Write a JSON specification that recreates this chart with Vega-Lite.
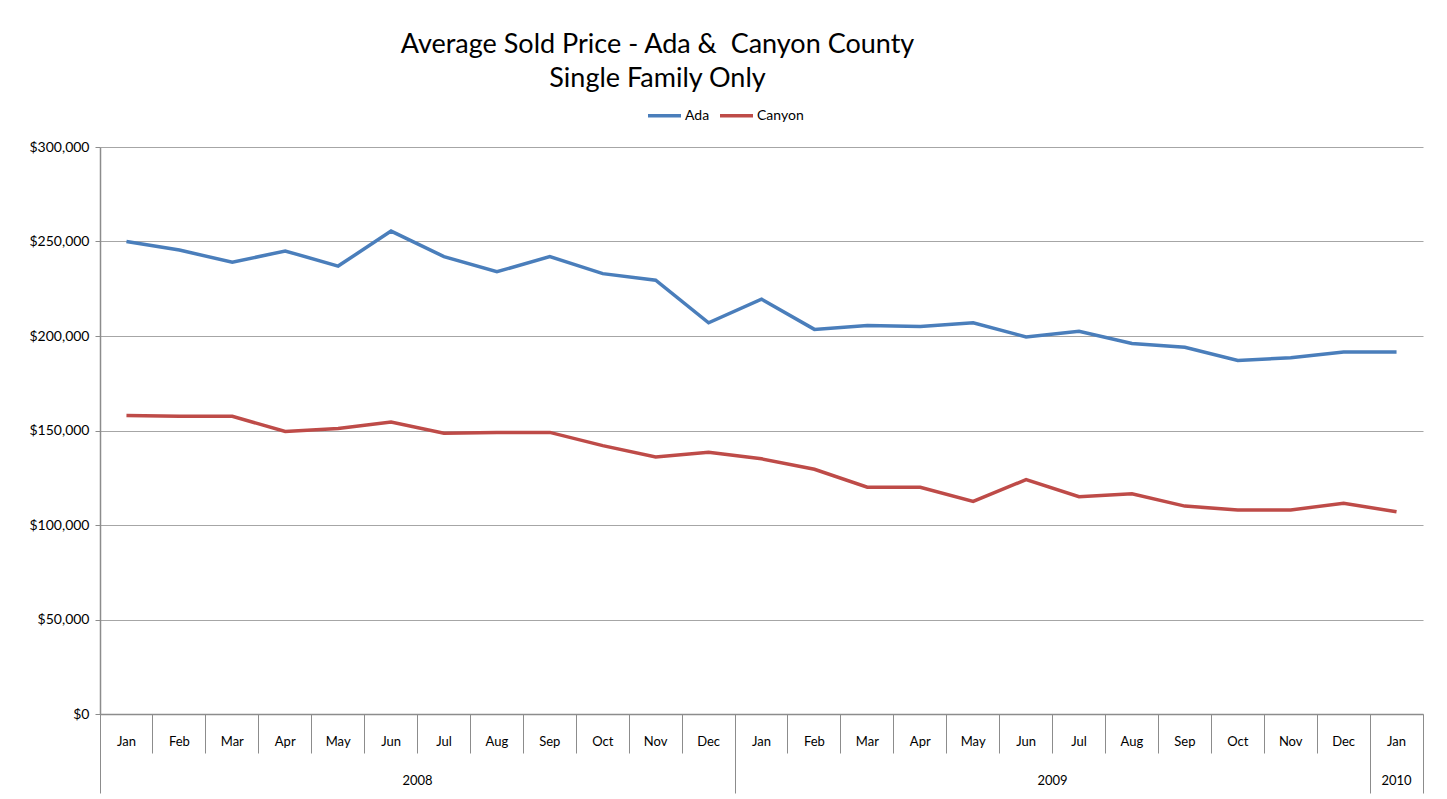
{
  "$schema": "https://vega.github.io/schema/vega-lite/v6.json",
  "width": 1323,
  "height": 567,
  "autosize": {"type": "none"},
  "padding": {"left": 100, "top": 147, "right": 24, "bottom": 85},
  "background": "white",
  "config": {"view": {"stroke": null}, "font": "Lato"},
  "title": {
    "text": ["Average Sold Price - Ada &\u00a0 Canyon County", "Single Family Only"],
    "fontSize": 27,
    "fontWeight": "normal",
    "font": "Lato",
    "color": "#000000",
    "anchor": "middle",
    "dx": -104,
    "lineHeight": 34,
    "offset": 4
  },
  "data": {
    "values": [
      {"m": "Jan 2008", "series": "Ada", "value": 250000},
      {"m": "Feb 2008", "series": "Ada", "value": 245500},
      {"m": "Mar 2008", "series": "Ada", "value": 239000},
      {"m": "Apr 2008", "series": "Ada", "value": 245000},
      {"m": "May 2008", "series": "Ada", "value": 237000},
      {"m": "Jun 2008", "series": "Ada", "value": 255500},
      {"m": "Jul 2008", "series": "Ada", "value": 242000},
      {"m": "Aug 2008", "series": "Ada", "value": 234000},
      {"m": "Sep 2008", "series": "Ada", "value": 242000},
      {"m": "Oct 2008", "series": "Ada", "value": 233000},
      {"m": "Nov 2008", "series": "Ada", "value": 229500},
      {"m": "Dec 2008", "series": "Ada", "value": 207000},
      {"m": "Jan 2009", "series": "Ada", "value": 219500},
      {"m": "Feb 2009", "series": "Ada", "value": 203500},
      {"m": "Mar 2009", "series": "Ada", "value": 205500},
      {"m": "Apr 2009", "series": "Ada", "value": 205000},
      {"m": "May 2009", "series": "Ada", "value": 207000},
      {"m": "Jun 2009", "series": "Ada", "value": 199500},
      {"m": "Jul 2009", "series": "Ada", "value": 202500},
      {"m": "Aug 2009", "series": "Ada", "value": 196000},
      {"m": "Sep 2009", "series": "Ada", "value": 194000},
      {"m": "Oct 2009", "series": "Ada", "value": 187000},
      {"m": "Nov 2009", "series": "Ada", "value": 188500},
      {"m": "Dec 2009", "series": "Ada", "value": 191500},
      {"m": "Jan 2010", "series": "Ada", "value": 191500},
      {"m": "Jan 2008", "series": "Canyon", "value": 158000},
      {"m": "Feb 2008", "series": "Canyon", "value": 157500},
      {"m": "Mar 2008", "series": "Canyon", "value": 157500},
      {"m": "Apr 2008", "series": "Canyon", "value": 149500},
      {"m": "May 2008", "series": "Canyon", "value": 151000},
      {"m": "Jun 2008", "series": "Canyon", "value": 154500},
      {"m": "Jul 2008", "series": "Canyon", "value": 148500},
      {"m": "Aug 2008", "series": "Canyon", "value": 149000},
      {"m": "Sep 2008", "series": "Canyon", "value": 149000},
      {"m": "Oct 2008", "series": "Canyon", "value": 142000},
      {"m": "Nov 2008", "series": "Canyon", "value": 136000},
      {"m": "Dec 2008", "series": "Canyon", "value": 138500},
      {"m": "Jan 2009", "series": "Canyon", "value": 135000},
      {"m": "Feb 2009", "series": "Canyon", "value": 129500},
      {"m": "Mar 2009", "series": "Canyon", "value": 120000},
      {"m": "Apr 2009", "series": "Canyon", "value": 120000},
      {"m": "May 2009", "series": "Canyon", "value": 112500},
      {"m": "Jun 2009", "series": "Canyon", "value": 124000},
      {"m": "Jul 2009", "series": "Canyon", "value": 115000},
      {"m": "Aug 2009", "series": "Canyon", "value": 116500},
      {"m": "Sep 2009", "series": "Canyon", "value": 110000},
      {"m": "Oct 2009", "series": "Canyon", "value": 108000},
      {"m": "Nov 2009", "series": "Canyon", "value": 108000},
      {"m": "Dec 2009", "series": "Canyon", "value": 111500},
      {"m": "Jan 2010", "series": "Canyon", "value": 107000}
    ]
  },
  "resolve": {"axis": {"x": "independent"}},
  "layer": [
    {
      "mark": {"type": "line", "strokeWidth": 3.5, "strokeJoin": "miter"},
      "encoding": {
        "x": {
          "field": "m",
          "type": "ordinal",
          "scale": {
            "type": "band",
            "paddingInner": 0,
            "paddingOuter": 0,
            "domain": ["Jan 2008","Feb 2008","Mar 2008","Apr 2008","May 2008","Jun 2008","Jul 2008","Aug 2008","Sep 2008","Oct 2008","Nov 2008","Dec 2008","Jan 2009","Feb 2009","Mar 2009","Apr 2009","May 2009","Jun 2009","Jul 2009","Aug 2009","Sep 2009","Oct 2009","Nov 2009","Dec 2009","Jan 2010"]
          },
          "axis": {
            "orient": "bottom",
            "title": null,
            "bandPosition": 0,
            "labelExpr": "split(datum.value, ' ')[0]",
            "labelAngle": 0,
            "labelAlign": "center",
            "labelBaseline": "middle",
            "labelPadding": -12,
            "labelFont": "Lato",
            "labelFontSize": 13,
            "labelColor": "#000000",
            "labelOverlap": false,
            "labelBound": false,
            "labelFlush": false,
            "tickSize": 39,
            "tickColor": "#8c8c8c",
            "tickWidth": 1,
            "domainColor": "#8c8c8c",
            "domainWidth": 1.5,
            "grid": false
          }
        },
        "y": {
          "field": "value",
          "type": "quantitative",
          "scale": {"domain": [0, 300000], "nice": false},
          "axis": {
            "title": null,
            "values": [0, 50000, 100000, 150000, 200000, 250000, 300000],
            "format": "$,.0f",
            "labelFont": "Lato",
            "labelFontSize": 14,
            "labelColor": "#000000",
            "labelPadding": 6,
            "tickSize": 5,
            "tickColor": "#8c8c8c",
            "domainColor": "#8c8c8c",
            "domainWidth": 1.5,
            "grid": true,
            "gridColor": "#a6a6a6",
            "gridWidth": 1.2
          }
        },
        "color": {
          "field": "series",
          "type": "nominal",
          "scale": {"domain": ["Ada", "Canyon"], "range": ["#4a7ebb", "#be4b48"]},
          "legend": {
            "title": null,
            "orient": "none",
            "direction": "horizontal",
            "legendX": 546,
            "legendY": -50,
            "symbolType": "stroke",
            "symbolSize": 1089,
            "symbolStrokeWidth": 3.5,
            "labelFont": "Lato",
            "labelFontSize": 14,
            "labelColor": "#000000",
            "labelOffset": 2,
            "columnPadding": 3
          }
        }
      }
    },
    {
      "mark": {"type": "point", "opacity": 0},
      "encoding": {
        "x": {
          "field": "m",
          "type": "ordinal",
          "axis": {
            "orient": "bottom",
            "title": null,
            "values": ["Jul 2008", "Jul 2009", "Jan 2010"],
            "labelExpr": "split(datum.value, ' ')[1]",
            "labelAngle": 0,
            "labelOffset": {"condition": {"test": "datum.value == 'Jan 2010'", "value": 0}, "value": -26.46},
            "labelAlign": "center",
            "labelBaseline": "middle",
            "labelPadding": 66,
            "labelFont": "Lato",
            "labelFontSize": 13,
            "labelColor": "#000000",
            "labelOverlap": false,
            "labelBound": false,
            "labelFlush": false,
            "ticks": false,
            "tickSize": 0,
            "domain": false,
            "grid": false
          }
        }
      }
    },
    {
      "mark": {"type": "point", "opacity": 0},
      "encoding": {
        "x": {
          "field": "m",
          "type": "ordinal",
          "axis": {
            "orient": "bottom",
            "title": null,
            "values": ["Jan 2008", "Jan 2009", "Jan 2010"],
            "bandPosition": 0,
            "labels": false,
            "tickSize": 79,
            "tickColor": "#8c8c8c",
            "tickWidth": 1,
            "domain": false,
            "grid": false
          }
        }
      }
    },
    {
      "mark": {"type": "point", "opacity": 0},
      "encoding": {
        "x": {
          "field": "m",
          "type": "ordinal",
          "axis": {
            "orient": "bottom",
            "title": null,
            "values": ["Jan 2010"],
            "bandPosition": 1,
            "labels": false,
            "tickSize": 79,
            "tickColor": "#8c8c8c",
            "tickWidth": 1,
            "domain": false,
            "grid": false
          }
        }
      }
    }
  ]
}
